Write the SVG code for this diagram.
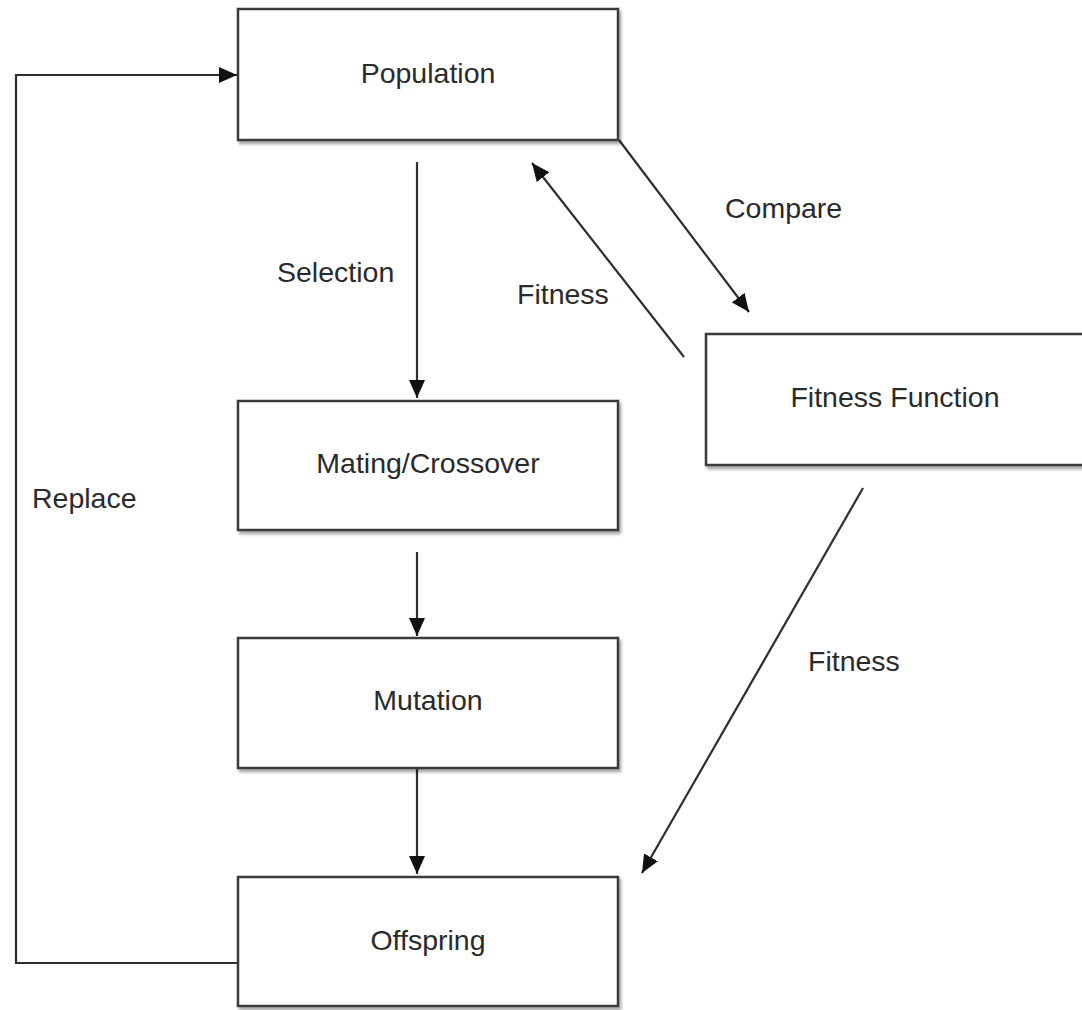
<svg xmlns="http://www.w3.org/2000/svg" width="1082" height="1010" viewBox="0 0 1082 1010">
<defs>
<style>
.box{fill:#fff;stroke:#3a3a3a;stroke-width:2.5;filter:url(#sh)}
.lbl{font-family:"Liberation Sans",Arial,sans-serif;font-size:28.5px;fill:#2a2a2a}
.c{text-anchor:middle}
.edge{fill:none;stroke:#2e2e2e;stroke-width:2.2}
</style>
<filter id="sh" x="-5%" y="-5%" width="115%" height="120%">
<feDropShadow dx="2" dy="3" stdDeviation="1.5" flood-color="#000" flood-opacity="0.35"/>
</filter>
<marker id="ah" markerUnits="userSpaceOnUse" markerWidth="19" markerHeight="16" refX="18" refY="8" orient="auto">
<path d="M0,0 L18,8 L0,16 Z" fill="#111"/>
</marker>
</defs>
<rect width="1082" height="1010" fill="#fff"/>
<g id="connectors">
<polyline class="edge" points="238,963 16,963 16,75 237,75" marker-end="url(#ah)"/>
<line class="edge" x1="417" y1="162" x2="417" y2="398" marker-end="url(#ah)"/>
<line class="edge" x1="417" y1="552" x2="417" y2="636" marker-end="url(#ah)"/>
<line class="edge" x1="417" y1="768" x2="417" y2="874" marker-end="url(#ah)"/>
<line class="edge" x1="619" y1="140" x2="749" y2="312" marker-end="url(#ah)"/>
<line class="edge" x1="684" y1="357" x2="532" y2="163" marker-end="url(#ah)"/>
<line class="edge" x1="863" y1="488" x2="642" y2="873" marker-end="url(#ah)"/>
<text class="lbl" x="725" y="218">Compare</text>
<text class="lbl" x="277" y="282">Selection</text>
<text class="lbl" x="517" y="304">Fitness</text>
<text class="lbl" x="32" y="508">Replace</text>
<text class="lbl" x="808" y="671">Fitness</text>
</g>
<g id="population">
<rect class="box" x="238" y="9" width="380" height="131"/>
<text class="lbl c" x="428" y="83">Population</text>
</g>
<g id="fitness-function">
<rect class="box" x="706" y="334" width="390" height="131"/>
<text class="lbl c" x="895" y="407">Fitness Function</text>
</g>
<g id="mating-crossover">
<rect class="box" x="238" y="401" width="380" height="129"/>
<text class="lbl c" x="428" y="473">Mating/Crossover</text>
</g>
<g id="mutation">
<rect class="box" x="238" y="638" width="380" height="130"/>
<text class="lbl c" x="428" y="710">Mutation</text>
</g>
<g id="offspring">
<rect class="box" x="238" y="877" width="380" height="129"/>
<text class="lbl c" x="428" y="950">Offspring</text>
</g>
</svg>
